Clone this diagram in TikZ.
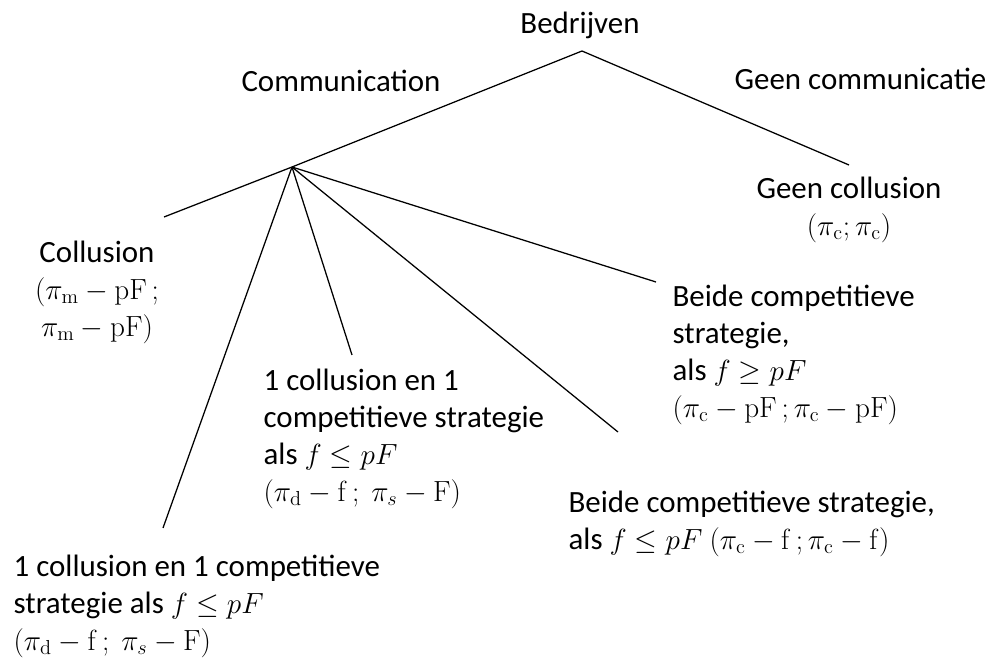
\documentclass[tikz,border=0pt]{standalone}
\usepackage[no-math]{fontspec}
\setmainfont{Carlito}
\usetikzlibrary{positioning}
\newcommand{\fl}{\rule{0pt}{20pt}}
\tikzset{gametree/.style={x=0.025cm, y=-0.025cm, line width=0.9pt,
every node/.style={font=\fontsize{22}{26.2}\selectfont, inner sep=0pt}},
lbl/.style={align=left, anchor=north west},
clbl/.style={align=center, anchor=north}}

\begin{document}
\begin{tikzpicture}[gametree]
\useasboundingbox (0,0) rectangle (996,663);

\coordinate (top) at (582,51);
\coordinate (comm) at (292,167);
\coordinate (geen) at (849,165);
\coordinate (coll) at (164,217);
\coordinate (onecoll) at (163,528);
\coordinate (onecoll2) at (352,355);
\coordinate (bothlow) at (618,432);
\coordinate (bothhigh) at (656,282);

\draw (comm) -- (top) -- (geen);
\foreach \e in {coll,onecoll,onecoll2,bothlow,bothhigh}
  \draw (comm) -- (\e);

\node (bed) [anchor=base] at (580,34) {Bedrijven};
\node (commlbl) [anchor=base] at (341,92) {Communication};
\node (geenlbl) [anchor=base east] at (987,90) {Geen communicatie};
\node (geencoll) [clbl, below=3.5pt of geen] {\fl Geen collusion\\$(\pi_{\mathrm{c}};\pi_{\mathrm{c}})$};
\node (colllbl) [clbl] at (97,234) {\fl Collusion\\$(\pi_{\mathrm{m}}-\mathrm{pF}\,;$\\$\pi_{\mathrm{m}}-\mathrm{pF})$};
\node (onecoll2lbl) [lbl] at (263,362) {\fl 1 collusion en 1\\competitieve strategie\\als $f\leq pF$\\$(\pi_{\mathrm{d}}-\mathrm{f}\,;\ \pi_s-\mathrm{F})$};
\node (bothhighlbl) [lbl] at (672,278) {\fl Beide competitieve\\strategie,\\als $f\geq pF$\\$(\pi_{\mathrm{c}}-\mathrm{pF}\,;\pi_{\mathrm{c}}-\mathrm{pF})$};
\node (bothlowlbl) [lbl] at (568,484) {\fl Beide competitieve strategie,\\als $f\leq pF$ $(\pi_{\mathrm{c}}-\mathrm{f}\,;\pi_{\mathrm{c}}-\mathrm{f})$};
\node (onecolllbl) [lbl] at (13,548) {\fl 1 collusion en 1 competitieve\\strategie als $f\leq pF$\\$(\pi_{\mathrm{d}}-\mathrm{f}\,;\ \pi_s-\mathrm{F})$};
\end{tikzpicture}
\end{document}
